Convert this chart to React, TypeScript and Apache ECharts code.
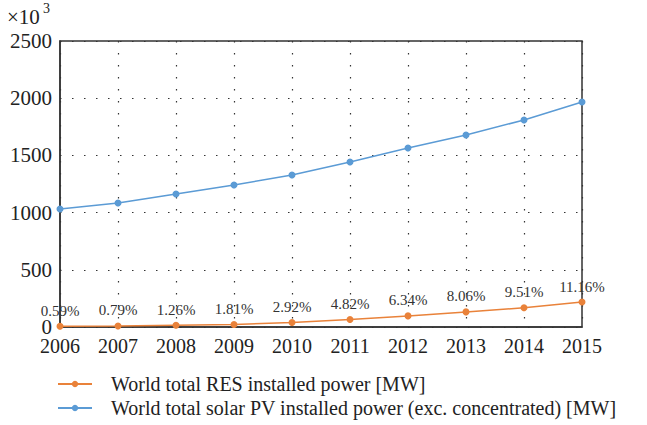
import React, { useEffect, useRef } from "react";
import * as echarts from "echarts";

const years = ["2006", "2007", "2008", "2009", "2010", "2011", "2012", "2013", "2014", "2015"];
const solarPV = [1031, 1084, 1163, 1241, 1329, 1442, 1565, 1678, 1810, 1967];
const resShare = [6, 9, 15, 22, 39, 66, 97, 132, 168, 218];
const pctLabels = ["0.59%", "0.79%", "1.26%", "1.81%", "2.92%", "4.82%", "6.34%", "8.06%", "9.51%", "11.16%"];
const yTicks = [0, 500, 1000, 1500, 2000, 2500];

const SERIF = "Liberation Serif";
const ORANGE = "#E9823A";
const BLUE = "#5B9BD5";

export default function App() {
  const ref = useRef<HTMLDivElement>(null);
  useEffect(() => {
    if (!ref.current) return;
    const chart = echarts.init(ref.current, undefined, { renderer: "svg" });
    chart.setOption({
      animation: false,
      grid: {
        left: 60,
        right: 65,
        top: 41,
        bottom: 98,
        show: true,
        borderColor: "#333",
        borderWidth: 1.5,
        backgroundColor: "transparent",
      },
      legend: {
        orient: "vertical",
        left: 57,
        top: 374,
        padding: 0,
        itemGap: 4,
        itemWidth: 34,
        itemHeight: 8,
        height: 60,
        data: ["World total RES installed power [MW]", "World total solar PV installed power (exc. concentrated) [MW]"],
        textStyle: { fontFamily: SERIF, fontSize: 20, color: "#222", padding: [0, 0, 0, 14] },
      },
      graphic: [
        { type: "text", left: 7, top: 6, style: { text: "×10", fontFamily: SERIF, fontSize: 21, fill: "#222" } },
        { type: "text", left: 43, top: 1, style: { text: "3", fontFamily: SERIF, fontSize: 14, fill: "#222" } },
      ],
      xAxis: {
        type: "category",
        data: years,
        boundaryGap: false,
        axisLine: { lineStyle: { color: "#333", width: 1.5 } },
        axisTick: { show: false },
        axisLabel: { fontFamily: SERIF, fontSize: 20, color: "#222", margin: 11, lineHeight: 16 },
        splitLine: { show: true, lineStyle: { color: "#333", type: [1.5, 10.5], width: 1.2 } },
      },
      yAxis: {
        type: "value",
        min: 0,
        max: 2500,
        interval: 500,
        axisLine: { show: true, lineStyle: { color: "#333", width: 1.5 } },
        axisTick: { show: false },
        axisLabel: {
          fontFamily: SERIF,
          fontSize: 21,
          color: "#222",
          margin: 8,
          lineHeight: 14,
          formatter: (v: number) => (yTicks.includes(v) ? String(v) : ""),
        },
        splitLine: { show: true, lineStyle: { color: "#333", type: [1.5, 10.5], width: 1.2 } },
      },
      series: [
        {
          name: "World total RES installed power [MW]",
          type: "line",
          data: resShare,
          symbol: "circle",
          symbolSize: 7,
          color: ORANGE,
          lineStyle: { color: ORANGE, width: 1.5 },
          itemStyle: { color: ORANGE },
          label: {
            show: true,
            position: "top",
            distance: 6,
            fontFamily: SERIF,
            fontSize: 15,
            lineHeight: 12,
            color: "#333",
            formatter: (p: any) => pctLabels[p.dataIndex],
          },
          z: 3,
        },
        {
          name: "World total solar PV installed power (exc. concentrated) [MW]",
          type: "line",
          data: solarPV,
          symbol: "circle",
          symbolSize: 7,
          color: BLUE,
          lineStyle: { color: BLUE, width: 1.5 },
          itemStyle: { color: BLUE },
          z: 3,
        },
      ],
    });
    return () => chart.dispose();
  }, []);
  return <div ref={ref} style={{ width: 647, height: 425, position: "fixed", left: 0, top: 0, background: "#fff" }} />;
}
